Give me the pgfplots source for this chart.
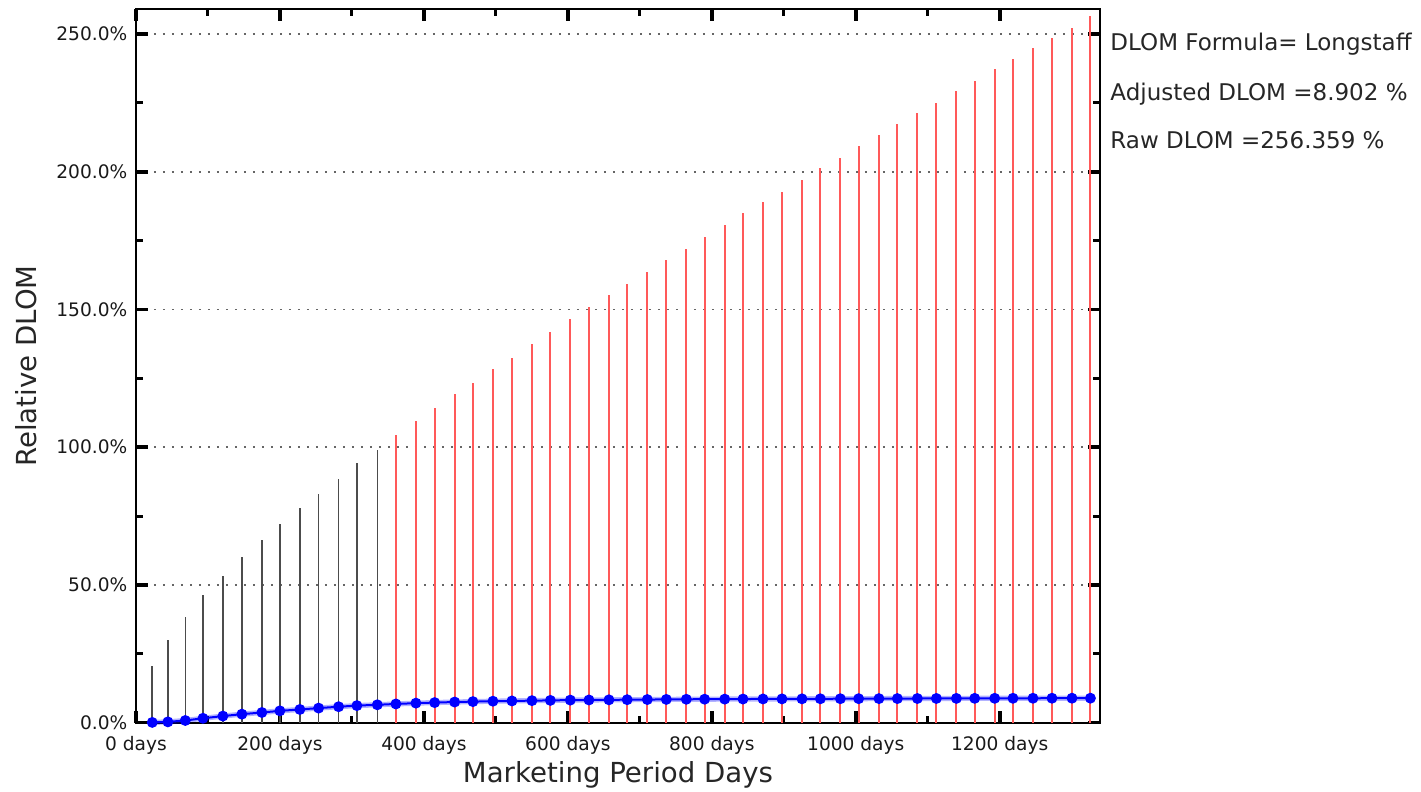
\documentclass[border=0pt]{standalone}
\usepackage{fontspec}
\setmainfont{DejaVu Sans}
\usepackage{pgfplots}
\usepackage{pgfplotstable}
\pgfplotsset{compat=1.18}

% days, raw relative DLOM (%), adjusted DLOM (%)
\pgfplotstableread{
days   raw     adj
22.6   20.6    0.1
44.3   30.0    0.3
68.5   38.2    0.8
93.0   46.3    1.6
120.7  53.1    2.4
147.1  60.1    3.1
174.9  66.2    3.7
199.9  72.3    4.3
227.7  78.0    4.8
253.7  83.2    5.3
281.5  88.6    5.8
306.9  94.3    6.2
335.3  98.9    6.5
361.1  104.6   6.8
388.9  109.5   7.1
414.9  114.4   7.3
442.7  119.2   7.5
468.1  123.3   7.65
495.9  128.3   7.8
522.3  132.5   7.9
550.1  137.4   8.0
575.7  141.7   8.1
603.4  146.5   8.2
629.3  150.9   8.25
657.1  155.1   8.3
682.4  159.2   8.35
710.4  163.6   8.4
736.8  167.8   8.45
764.6  172.1   8.5
790.0  176.3   8.53
817.9  180.5   8.56
843.3  185.0   8.59
871.1  189.0   8.62
897.5  192.6   8.64
925.3  197.1   8.66
950.8  201.3   8.68
978.6  205.0   8.70
1004.0 209.2   8.72
1032.2 213.4   8.74
1057.8 217.2   8.76
1085.6 221.3   8.78
1112.0 224.9   8.80
1139.8 229.3   8.82
1165.2 232.9   8.84
1193.0 237.2   8.85
1218.4 240.8   8.86
1246.2 245.0   8.87
1272.6 248.7   8.88
1300.4 252.3   8.89
1326.0 256.359 8.902
}\dlomdata

\begin{document}
\begin{tikzpicture}
  \useasboundingbox (-68pt,-34.65pt) rectangle (642.5pt,361.35pt);
  \begin{axis}[
    at={(0,0)}, anchor=south west,
    scale only axis,
    width=482pt, height=356.6pt,
    xmin=0, xmax=1339.3,
    ymin=0, ymax=258.9,
    clip=false,
    axis line style={line width=1pt},
    tick align=inside,
    xtick={0,200,...,1200},
    minor x tick num=1,
    ytick={0,50,...,250},
    minor y tick num=1,
    major tick length=6pt,
    minor tick length=3.3pt,
    every major tick/.style={line width=1.8pt,black},
    every minor tick/.style={line width=1.5pt,black},
    scaled x ticks=false,
    /pgf/number format/assume math mode=true,
    /pgf/number format/1000 sep={},
    xticklabel={\pgfmathprintnumber{\tick} days},
    yticklabel={\pgfmathprintnumber[fixed,fixed zerofill,precision=1]{\tick}\%},
    tick label style={font=\fontsize{9.3}{11}\selectfont, text=black!90},
    xticklabel style={yshift=-3.5pt},
    yticklabel style={xshift=-0.8pt},
    ymajorgrids,
    major grid style={black!60, line width=0.8pt, dash pattern=on 0.8pt off 3.7pt},
    xlabel={Marketing Period Days},
    ylabel={Relative DLOM},
    label style={font=\fontsize{13.8}{16}\selectfont, text=black!85},
    xlabel style={at={(axis description cs:0.5,-0.0842)}, anchor=base},
    ylabel style={at={(axis description cs:-0.1027,0.5)}, anchor=base},
  ]
    % stems up to 100%
    \addplot[ycomb, black!70, line width=0.8pt, restrict y to domain=0:100]
      table[x=days, y=raw] {\dlomdata};
    % stems above 100%
    \addplot[ycomb, red!65, line width=1pt, restrict y to domain=100:300]
      table[x=days, y=raw] {\dlomdata};
    % adjusted curve with halo
    \addplot[blue, opacity=0.3, line width=2.6pt, no marks]
      table[x=days, y=adj] {\dlomdata};
    \addplot[blue, line width=1pt, mark=*, mark size=2.2pt, mark options={fill=blue}]
      table[x=days, y=adj] {\dlomdata};

    \node[anchor=base west, inner sep=0pt, font=\fontsize{11.5}{13}\selectfont, text=black!85]
      at (axis description cs:1.0104,0.9425) {DLOM Formula= Longstaff};
    \node[anchor=base west, inner sep=0pt, font=\fontsize{11.5}{13}\selectfont, text=black!85]
      at (axis description cs:1.0104,0.8723) {Adjusted DLOM =8.902 \%};
    \node[anchor=base west, inner sep=0pt, font=\fontsize{11.5}{13}\selectfont, text=black!85]
      at (axis description cs:1.0104,0.8050) {Raw DLOM =256.359 \%};
  \end{axis}
\end{tikzpicture}
\end{document}
